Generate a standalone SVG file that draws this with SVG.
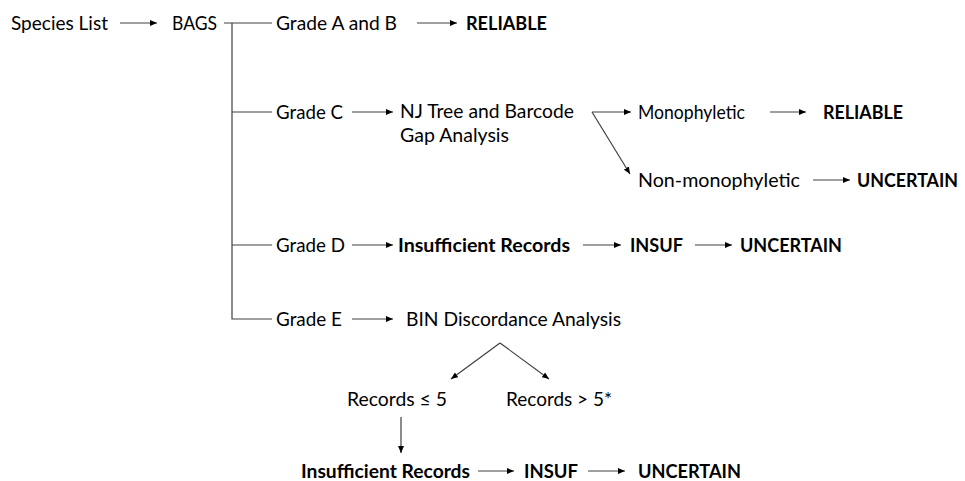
<svg xmlns="http://www.w3.org/2000/svg" width="965" height="481" viewBox="0 0 965 481">
  <defs>
    <marker id="arr" markerUnits="userSpaceOnUse" markerWidth="8" markerHeight="6" refX="7" refY="3" orient="auto">
      <path d="M0,0 L7,3 L0,6 z" fill="#000"/>
    </marker>
    <style>
      text { font-family: Lato, "Open Sans", "Liberation Sans", sans-serif; font-size: 19px; fill: #000; }
      .b { font-weight: bold; }
      .c { stroke: #404040; stroke-width: 1.2; fill: none; }
      .a { marker-end: url(#arr); }
    </style>
  </defs>
  <rect width="965" height="481" fill="#fff"/>

  <g id="connectors">
    <line class="c a" x1="120" y1="23" x2="157" y2="23"/>
    <polyline class="c" points="224,23 272,23"/>
    <polyline class="c" points="232,23 232,319 272,319"/>
    <line class="c" x1="232" y1="112" x2="272" y2="112"/>
    <line class="c" x1="232" y1="245" x2="272" y2="245"/>
    <line class="c a" x1="417" y1="23" x2="457" y2="23"/>
    <line class="c a" x1="352" y1="112" x2="393" y2="112"/>
    <line class="c a" x1="592" y1="112" x2="631" y2="112"/>
    <line class="c a" x1="592" y1="112" x2="630" y2="174"/>
    <line class="c a" x1="770" y1="112" x2="806" y2="112"/>
    <line class="c a" x1="813" y1="180" x2="850" y2="180"/>
    <line class="c a" x1="352" y1="245" x2="393" y2="245"/>
    <line class="c a" x1="583" y1="245" x2="621" y2="245"/>
    <line class="c a" x1="695" y1="245" x2="732" y2="245"/>
    <line class="c a" x1="352" y1="319" x2="393" y2="319"/>
    <line class="c a" x1="500" y1="343" x2="451" y2="379"/>
    <line class="c a" x1="500" y1="343" x2="549" y2="379"/>
    <line class="c a" x1="401" y1="417" x2="401" y2="453"/>
    <line class="c a" x1="478" y1="471" x2="514" y2="471"/>
    <line class="c a" x1="588" y1="471" x2="625" y2="471"/>
  </g>

  <g id="species-list"><text x="11" y="30" textLength="97" lengthAdjust="spacingAndGlyphs">Species List</text></g>
  <g id="bags"><text x="172" y="30" textLength="45" lengthAdjust="spacingAndGlyphs">BAGS</text></g>

  <g id="grade-ab"><text x="276" y="30" textLength="121" lengthAdjust="spacingAndGlyphs">Grade A and B</text></g>
  <g id="reliable-ab"><text class="b" x="466" y="30" textLength="81" lengthAdjust="spacingAndGlyphs">RELIABLE</text></g>

  <g id="grade-c"><text x="276" y="119" textLength="67" lengthAdjust="spacingAndGlyphs">Grade C</text></g>
  <g id="nj-tree">
    <text x="400" y="118" textLength="174" lengthAdjust="spacingAndGlyphs">NJ Tree and Barcode</text>
    <text x="400" y="142" textLength="109" lengthAdjust="spacingAndGlyphs">Gap Analysis</text>
  </g>
  <g id="monophyletic"><text x="638" y="119" textLength="107" lengthAdjust="spacingAndGlyphs">Monophyletic</text></g>
  <g id="reliable-c"><text class="b" x="823" y="119" textLength="80" lengthAdjust="spacingAndGlyphs">RELIABLE</text></g>
  <g id="non-monophyletic"><text x="638" y="187" textLength="162" lengthAdjust="spacingAndGlyphs">Non-monophyletic</text></g>
  <g id="uncertain-c"><text class="b" x="857" y="187" textLength="101" lengthAdjust="spacingAndGlyphs">UNCERTAIN</text></g>

  <g id="grade-d"><text x="276" y="252" textLength="69" lengthAdjust="spacingAndGlyphs">Grade D</text></g>
  <g id="insufficient-d"><text class="b" x="398" y="252" textLength="172" lengthAdjust="spacingAndGlyphs">Insufficient Records</text></g>
  <g id="insuf-d"><text class="b" x="630" y="252" textLength="53" lengthAdjust="spacingAndGlyphs">INSUF</text></g>
  <g id="uncertain-d"><text class="b" x="740" y="252" textLength="102" lengthAdjust="spacingAndGlyphs">UNCERTAIN</text></g>

  <g id="grade-e"><text x="276" y="326" textLength="66" lengthAdjust="spacingAndGlyphs">Grade E</text></g>
  <g id="bin-discordance"><text x="406" y="326" textLength="215" lengthAdjust="spacingAndGlyphs">BIN Discordance Analysis</text></g>

  <g id="records-le5"><text x="347" y="406" textLength="100" lengthAdjust="spacingAndGlyphs">Records ≤ 5</text></g>
  <g id="records-gt5"><text x="506" y="406" textLength="106" lengthAdjust="spacingAndGlyphs">Records &gt; 5*</text></g>

  <g id="insufficient-e"><text class="b" x="301" y="478" textLength="169" lengthAdjust="spacingAndGlyphs">Insufficient Records</text></g>
  <g id="insuf-e"><text class="b" x="524" y="478" textLength="54" lengthAdjust="spacingAndGlyphs">INSUF</text></g>
  <g id="uncertain-e"><text class="b" x="638" y="478" textLength="103" lengthAdjust="spacingAndGlyphs">UNCERTAIN</text></g>
</svg>
